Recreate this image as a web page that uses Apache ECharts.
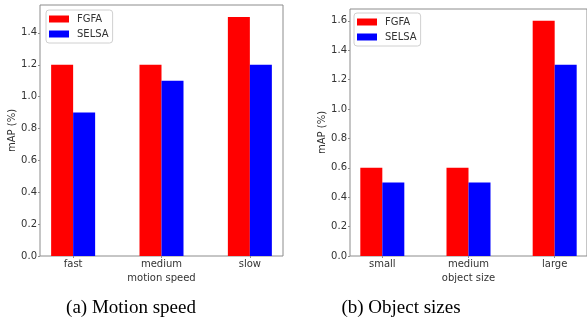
<!DOCTYPE html>
<html><head><meta charset="utf-8">
<script src="https://cdn.jsdelivr.net/npm/echarts@6/dist/echarts.min.js"></script>
<style>html,body{margin:0;padding:0;background:#fff}#c{width:587px;height:322px}</style>
</head><body><div id="c"></div>
<script>
const seriesNames = ['FGFA', 'SELSA'];
const speedCategories = ['fast', 'medium', 'slow'];
const speedFGFA = [1.2, 1.2, 1.5];
const speedSELSA = [0.9, 1.1, 1.2];
const sizeCategories = ['small', 'medium', 'large'];
const sizeFGFA = [0.6, 0.6, 1.6];
const sizeSELSA = [0.5, 0.5, 1.3];
const speedYTicks = [0, 0.2, 0.4, 0.6, 0.8, 1.0, 1.2, 1.4];
const sizeYTicks = [0, 0.2, 0.4, 0.6, 0.8, 1.0, 1.2, 1.4, 1.6];
const captions = ['(a) Motion speed', '(b) Object sizes'];

const colors = ['#ff0000', '#0000ff'];
const font = 'DejaVu Sans';
const boxColor = '#8c8c8c';
const textColor = '#333';

function xAxisCfg(idx, cats, name) {
  return {
    type: 'value', gridIndex: idx, min: -0.375, max: cats.length - 1 + 0.375,
    axisLine: { show: false, onZero: false },
    splitLine: { show: false },
    axisTick: { show: true, length: 2, lineStyle: { color: boxColor }, customValues: cats.map((c, i) => i) },
    axisLabel: { show: true, margin: 3, color: textColor, fontFamily: font, fontSize: 10,
      customValues: cats.map((c, i) => i), formatter: v => cats[Math.round(v)] || '' },
    name: name, nameLocation: 'middle', nameGap: 13,
    nameTextStyle: { color: textColor, fontFamily: font, fontSize: 10 }
  };
}
function yAxisCfg(idx, ticks, maxVal) {
  return {
    type: 'value', gridIndex: idx, min: 0, max: maxVal,
    axisLine: { show: false, onZero: false },
    splitLine: { show: false },
    axisTick: { show: true, length: 2, lineStyle: { color: boxColor }, customValues: ticks },
    axisLabel: { show: true, margin: 3, color: textColor, fontFamily: font, fontSize: 10,
      customValues: ticks, formatter: v => v.toFixed(1) },
    name: 'mAP (%)', nameLocation: 'middle', nameGap: 21, nameRotate: 90,
    nameTextStyle: { color: textColor, fontFamily: font, fontSize: 10 }
  };
}
function barSeries(name, idx, vals, color) {
  return {
    type: 'bar', name: name, xAxisIndex: idx, yAxisIndex: idx,
    data: vals.map((v, i) => [i, v]),
    barWidth: 22, barGap: '0%',
    itemStyle: { color: color },
    silent: true
  };
}
function legendCfg(left, top) {
  return {
    data: seriesNames, orient: 'vertical', left: left, top: top,
    icon: 'rect', itemWidth: 20, itemHeight: 7, itemGap: 5,
    padding: [4, 4, 4, 3], borderColor: '#d0d0d0', borderWidth: 1, borderRadius: 3,
    textStyle: { color: textColor, fontFamily: font, fontSize: 10, padding: [0, 0, 0, 3] },
    selectedMode: false
  };
}

const chart = echarts.init(document.getElementById('c'), null, { renderer: 'canvas' });
chart.setOption({
  animation: false,
  backgroundColor: '#fff',
  grid: [
    { left: 40, top: 5, width: 243, height: 251, show: true, borderColor: boxColor, borderWidth: 1, backgroundColor: 'transparent' },
    { left: 350, top: 9, width: 240, height: 247, show: true, borderColor: boxColor, borderWidth: 1, backgroundColor: 'transparent' }
  ],
  xAxis: [xAxisCfg(0, speedCategories, 'motion speed'), xAxisCfg(1, sizeCategories, 'object size')],
  yAxis: [yAxisCfg(0, speedYTicks, 1.575), yAxisCfg(1, sizeYTicks, 1.68)],
  legend: [legendCfg(46, 10), legendCfg(354, 13)],
  series: [
    barSeries(seriesNames[0], 0, speedFGFA, colors[0]),
    barSeries(seriesNames[1], 0, speedSELSA, colors[1]),
    barSeries(seriesNames[0], 1, sizeFGFA, colors[0]),
    barSeries(seriesNames[1], 1, sizeSELSA, colors[1])
  ],
  graphic: [
    { type: 'text', x: 131, y: 308, style: { text: captions[0], font: '19px "Liberation Serif"', fill: '#000', align: 'center', verticalAlign: 'middle' } },
    { type: 'text', x: 401, y: 308, style: { text: captions[1], font: '19px "Liberation Serif"', fill: '#000', align: 'center', verticalAlign: 'middle' } }
  ]
});
</script></body></html>
